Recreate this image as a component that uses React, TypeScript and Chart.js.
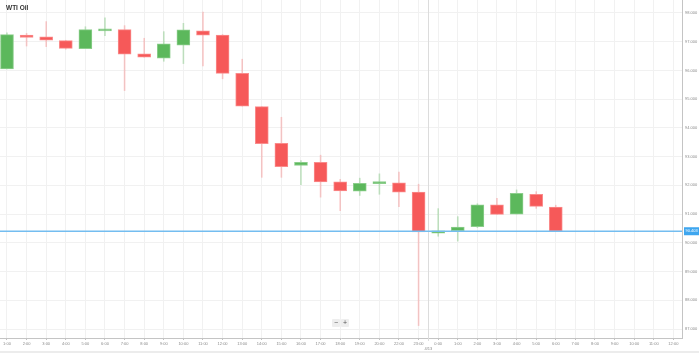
import React, { useEffect, useRef } from "react";
import { Chart, registerables } from "chart.js";

Chart.register(...registerables);

// Axis slots (hourly). 21:00 is the daily break, so it has no slot.
const slotLabels = [
  "1:00", "2:00", "3:00", "4:00", "5:00", "6:00", "7:00", "8:00", "9:00", "10:00",
  "11:00", "12:00", "13:00", "14:00", "15:00", "16:00", "17:00", "18:00", "19:00", "20:00",
  "22:00", "23:00",
  "0:00", "1:00", "2:00", "3:00", "4:00", "5:00", "6:00", "7:00", "8:00", "9:00",
  "10:00", "11:00", "12:00",
];

// Slot index of each candle
const candleSlots = [
  0, 1, 2, 3, 4, 5, 6, 7, 8, 9, 10, 11, 12, 13, 14, 15, 16, 17, 18, 19, 20, 21,
  22, 23, 24, 25, 26, 27, 28,
];

const opens = [
  96.05, 97.23, 97.17, 97.04, 96.76, 97.38, 97.42, 96.58, 96.43, 96.88, 97.38, 97.23,
  95.9, 94.74, 93.46, 92.69, 92.8, 92.12, 91.8, 92.06, 92.09, 91.77,
  90.34, 90.42, 90.56, 91.32, 91.0, 91.69, 91.24,
];
const highs = [
  97.31, 97.29, 97.7, 97.05, 97.52, 97.83, 97.56, 97.12, 97.35, 97.64, 98.03, 97.25,
  96.39, 94.74, 94.37, 92.86, 93.05, 92.21, 92.25, 92.4, 92.46, 92.04,
  91.19, 90.91, 91.36, 91.55, 91.84, 91.78, 91.31,
];
const lows = [
  96.05, 96.85, 96.83, 96.74, 96.76, 97.21, 95.3, 96.46, 96.32, 96.24, 96.16, 95.71,
  94.76, 92.28, 92.28, 92.02, 91.59, 91.12, 91.65, 91.69, 91.26, 87.12,
  90.23, 90.06, 90.53, 90.99, 91.0, 91.2, 90.4,
];
const closes = [
  97.245, 97.15, 97.05, 96.77, 97.42, 97.44, 96.57, 96.46, 96.93, 97.41, 97.23, 95.9,
  94.76, 93.45, 92.65, 92.8, 92.12, 91.81, 92.07, 92.08, 91.76, 90.38,
  90.42, 90.55, 91.32, 90.99, 91.72, 91.27, 90.403,
];

const yTicks = [98, 97, 96, 95, 94, 93, 92, 91, 90, 89, 88, 87];
const lastPrice = 90.403;
const dateLabel = "4/13";
const dateBoundary = 21.5;
const title = "WTI Oil";

const GREEN = "rgb(92,184,92)";
const GREEN_BORDER = "rgb(140,206,140)";
const GREEN_WICK = "rgba(92,184,92,0.35)";
const RED = "rgb(246,89,89)";
const RED_BORDER = "rgb(250,140,140)";
const RED_WICK = "rgba(246,89,89,0.3)";

const isUp = (i: number) => closes[i] >= opens[i];

const decorPlugin = {
  id: "decor",
  beforeDatasetsDraw(chart: any) {
    const { ctx, chartArea, scales } = chart;
    const x = Math.round(scales.x.getPixelForValue(dateBoundary)) + 0.5;
    ctx.save();
    ctx.strokeStyle = "#dcdcdc";
    ctx.lineWidth = 1;
    ctx.beginPath();
    ctx.moveTo(x, chartArea.top);
    ctx.lineTo(x, chartArea.bottom + 3);
    ctx.stroke();
    ctx.restore();
  },
  afterDatasetsDraw(chart: any) {
    const { ctx, chartArea, scales } = chart;
    const y = scales.y.getPixelForValue(lastPrice);
    ctx.save();
    ctx.strokeStyle = "#74bdf0";
    ctx.lineWidth = 1.5;
    ctx.beginPath();
    ctx.moveTo(chartArea.left, y);
    ctx.lineTo(chartArea.right, y);
    ctx.stroke();
    ctx.restore();
  },
  afterDraw(chart: any) {
    const { ctx, chartArea, scales, width } = chart;
    const y = scales.y.getPixelForValue(lastPrice);
    ctx.save();
    ctx.fillStyle = "#3ea6ef";
    ctx.fillRect(chartArea.right + 2, y - 4, 15, 8);
    ctx.fillStyle = "#ffffff";
    ctx.font = "4px 'Liberation Sans', Arial, sans-serif";
    ctx.textAlign = "left";
    ctx.textBaseline = "middle";
    ctx.fillText(lastPrice.toFixed(3), chartArea.right + 3.5, y);
    // date label under the day boundary
    const x = scales.x.getPixelForValue(dateBoundary);
    ctx.fillStyle = "#888";
    ctx.textAlign = "center";
    ctx.fillText(dateLabel, x, chartArea.bottom + 11);
    // bottom strip
    ctx.fillStyle = "#ececec";
    ctx.fillRect(0, 351, width, 2);
    ctx.restore();
  },
};

export default function App() {
  const canvasRef = useRef<HTMLCanvasElement | null>(null);

  useEffect(() => {
    const canvas = canvasRef.current;
    if (!canvas) return;
    const chart = new Chart(canvas, {
      type: "bar",
      data: {
        datasets: [
          {
            label: "wick",
            data: candleSlots.map((s, i) => ({ x: s, y: [lows[i], highs[i]] })) as any,
            backgroundColor: candleSlots.map((_, i) => (isUp(i) ? GREEN_WICK : RED_WICK)),
            barThickness: 1,
            grouped: false,
            order: 2,
            borderWidth: 0,
          },
          {
            label: "body",
            data: candleSlots.map((s, i) => ({ x: s, y: [opens[i], closes[i]] })) as any,
            backgroundColor: candleSlots.map((_, i) => (isUp(i) ? GREEN : RED)),
            borderColor: candleSlots.map((_, i) => (isUp(i) ? GREEN_BORDER : RED_BORDER)),
            borderWidth: 1,
            borderSkipped: false,
            barThickness: 13,
            minBarLength: 2,
            grouped: false,
            order: 1,
          },
        ],
      },
      options: {
        animation: false,
        responsive: true,
        maintainAspectRatio: false,
        layout: { padding: 0, autoPadding: false },
        plugins: {
          legend: { display: false },
          tooltip: { enabled: false },
        },
        scales: {
          x: {
            type: "linear",
            offset: false,
            min: -0.357,
            max: 34.44,
            afterBuildTicks(scale: any) {
              scale.ticks = slotLabels.map((_, i) => ({ value: i }));
            },
            afterFit(scale: any) {
              scale.height = 15;
              scale.paddingLeft = 0;
              scale.paddingRight = 0;
            },
            ticks: {
              autoSkip: false,
              maxRotation: 0,
              minRotation: 0,
              padding: 1,
              color: "#8a8a8a",
              font: { size: 4, family: "'Liberation Sans', Arial, sans-serif" },
              callback: (v: any) => slotLabels[Math.round(Number(v))] ?? "",
            },
            grid: {
              offset: false,
              color: "#f1f1f1",
              lineWidth: 1,
              drawTicks: true,
              tickLength: 2,
              tickColor: "#c0c0c0",
            },
            border: { display: true, color: "#c4c4c4", width: 1 },
          },
          y: {
            type: "linear",
            position: "right",
            min: 86.687,
            max: 98.452,
            afterBuildTicks(scale: any) {
              scale.ticks = yTicks.map((v) => ({ value: v }));
            },
            afterFit(scale: any) {
              scale.width = 17;
              scale.paddingTop = 0;
              scale.paddingBottom = 0;
            },
            ticks: {
              padding: 3,
              color: "#8a8a8a",
              font: { size: 4, family: "'Liberation Sans', Arial, sans-serif" },
              callback: (v: any) => Number(v).toFixed(3),
            },
            grid: {
              color: "#f1f1f1",
              lineWidth: 1,
              drawTicks: false,
            },
            border: { display: true, color: "#c4c4c4", width: 1 },
          },
        },
      } as any,
      plugins: [decorPlugin],
    });
    return () => chart.destroy();
  }, []);

  return (
    <div
      style={{
        position: "fixed",
        left: 0,
        top: 0,
        width: 699,
        height: 353,
        background: "#ffffff",
        overflow: "hidden",
      }}
    >
      <canvas ref={canvasRef} />
      <div
        style={{
          position: "absolute",
          left: 6,
          top: 4,
          fontFamily: "'Liberation Sans', Arial, sans-serif",
          fontWeight: "bold",
          fontSize: 6.5,
          color: "#333",
          lineHeight: "8px",
          whiteSpace: "nowrap",
        }}
      >
        {title}
      </div>
      <div
        style={{
          position: "absolute",
          left: 332,
          top: 319,
          display: "flex",
          gap: 1,
          fontFamily: "'Liberation Sans', Arial, sans-serif",
          fontSize: 7,
          lineHeight: "8px",
          color: "#555",
        }}
      >
        <span style={{ width: 8, height: 8, background: "#eeeeee", textAlign: "center", borderRadius: 1 }}>−</span>
        <span style={{ width: 8, height: 8, background: "#eeeeee", textAlign: "center", borderRadius: 1 }}>+</span>
      </div>
    </div>
  );
}
